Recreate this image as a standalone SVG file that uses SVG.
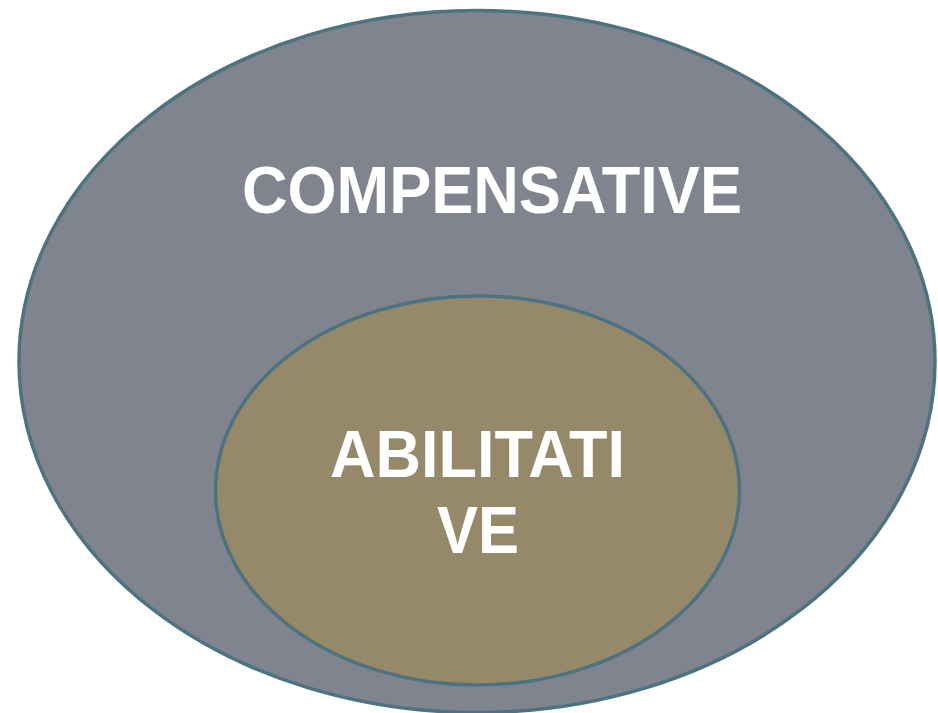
<svg xmlns="http://www.w3.org/2000/svg" width="938" height="713" viewBox="0 0 938 713">
<style>
.lbl{font-family:"Liberation Sans",Arial,sans-serif;font-weight:bold;fill:#ffffff;text-anchor:middle;font-size:66px}
.ring{stroke:#4e7380;stroke-width:3.5}
</style>
<rect width="938" height="713" fill="#ffffff"/>
<g id="compensative">
<ellipse class="ring" cx="477" cy="361.5" rx="458" ry="351" fill="#7f848e"/>
<text class="lbl" x="492" y="213" textLength="500" lengthAdjust="spacingAndGlyphs">COMPENSATIVE</text>
</g>
<g id="abilitative">
<ellipse class="ring" cx="477.5" cy="490.5" rx="262" ry="194.5" fill="#968969"/>
<text class="lbl" x="477.5" y="477" textLength="295" lengthAdjust="spacingAndGlyphs">ABILITATI</text>
<text class="lbl" x="478" y="553" textLength="82" lengthAdjust="spacingAndGlyphs">VE</text>
</g>
<g id="connectors"/>
</svg>
